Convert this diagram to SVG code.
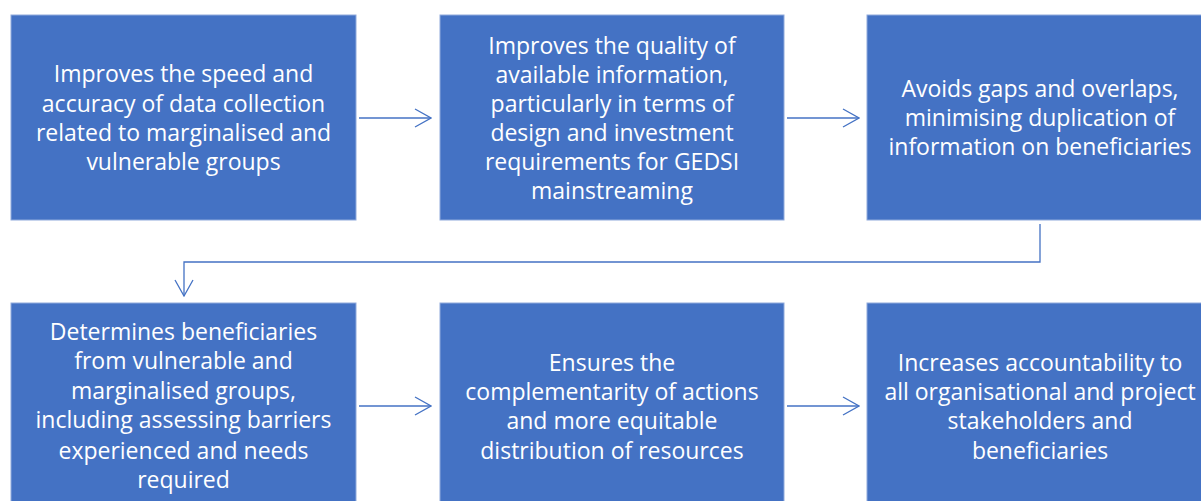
<svg xmlns="http://www.w3.org/2000/svg" width="1201" height="501" viewBox="0 0 1201 501">
  <style>
    .box { fill: #4472C4; stroke: #8FAADC; stroke-width: 1; }
    .lbl { fill: #FFFFFF; font-family: "Open Sans", "Noto Sans", sans-serif; font-size: 23px; text-anchor: middle; dominant-baseline: central; }
    .link { fill: none; stroke: #4472C4; stroke-width: 1.3; marker-end: url(#head); }
  </style>
  <defs>
    <!-- open chevron arrowhead -->
    <marker id="head" viewBox="0 0 18 20" refX="17" refY="10" markerWidth="18" markerHeight="20" markerUnits="userSpaceOnUse" orient="auto">
      <path d="M1,1 L17,10 L1,19" fill="none" stroke="#4472C4" stroke-width="1.3"/>
    </marker>
  </defs>
  <rect width="1201" height="501" fill="#FFFFFF"/>

  <g id="connectors">
    <path class="link" d="M359,118 H431"/>
    <path class="link" d="M787,118 H859"/>
    <path class="link" d="M1040,224 V262 H184 V296"/>
    <path class="link" d="M359,406 H431"/>
    <path class="link" d="M787,406 H859"/>
  </g>

  <g id="node-speed">
    <rect class="box" x="11" y="15" width="345" height="205"/>
    <text class="lbl"><tspan x="183.5" y="73">Improves the speed and</tspan><tspan x="183.5" y="103">accuracy of data collection</tspan><tspan x="183.5" y="132">related to marginalised and</tspan><tspan x="183.5" y="161">vulnerable groups</tspan></text>
  </g>

  <g id="node-quality">
    <rect class="box" x="440" y="15" width="344" height="205"/>
    <text class="lbl"><tspan x="612" y="45">Improves the quality of</tspan><tspan x="612" y="74">available information,</tspan><tspan x="612" y="103">particularly in terms of</tspan><tspan x="612" y="132">design and investment</tspan><tspan x="612" y="161">requirements for GEDSI</tspan><tspan x="612" y="190">mainstreaming</tspan></text>
  </g>

  <g id="node-gaps">
    <rect class="box" x="867" y="15" width="345" height="205"/>
    <text class="lbl"><tspan x="1040" y="88">Avoids gaps and overlaps,</tspan><tspan x="1040" y="117">minimising duplication of</tspan><tspan x="1040" y="146">information on beneficiaries</tspan></text>
  </g>

  <g id="node-beneficiaries">
    <rect class="box" x="11" y="303" width="345" height="205"/>
    <text class="lbl"><tspan x="183.5" y="331">Determines beneficiaries</tspan><tspan x="183.5" y="360">from vulnerable and</tspan><tspan x="183.5" y="390">marginalised groups,</tspan><tspan x="183.5" y="419">including assessing barriers</tspan><tspan x="183.5" y="450">experienced and needs</tspan><tspan x="183.5" y="479">required</tspan></text>
  </g>

  <g id="node-complementarity">
    <rect class="box" x="440" y="303" width="344" height="205"/>
    <text class="lbl"><tspan x="612" y="362">Ensures the</tspan><tspan x="612" y="391">complementarity of actions</tspan><tspan x="612" y="420">and more equitable</tspan><tspan x="612" y="450">distribution of resources</tspan></text>
  </g>

  <g id="node-accountability">
    <rect class="box" x="867" y="303" width="345" height="205"/>
    <text class="lbl"><tspan x="1040" y="362">Increases accountability to</tspan><tspan x="1040" y="391">all organisational and project</tspan><tspan x="1040" y="420">stakeholders and</tspan><tspan x="1040" y="450">beneficiaries</tspan></text>
  </g>
</svg>
